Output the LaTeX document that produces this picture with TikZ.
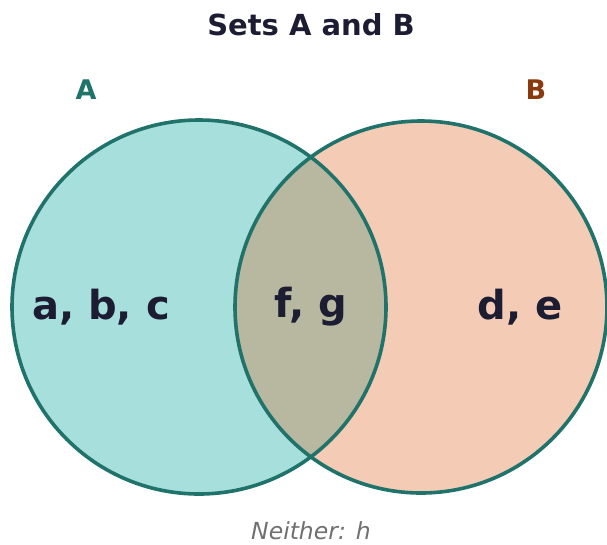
\documentclass[tikz,border=0pt]{standalone}
\usepackage{fontspec}
\setmainfont{DejaVu Sans}
\definecolor{setteal}{RGB}{31,115,106}
\definecolor{setbrown}{RGB}{139,58,14}
\definecolor{setink}{RGB}{28,28,51}
\definecolor{fillA}{RGB}{166,223,219}
\definecolor{fillB}{RGB}{244,203,181}
\definecolor{fillAB}{RGB}{184,183,160}
\definecolor{setgray}{RGB}{112,112,112}
\usetikzlibrary{positioning}

\begin{document}
\begin{tikzpicture}[x=1pt, y=-1pt,
  setcircle/.style={draw=setteal, line width=3.6pt},
  members/.style={text=setink, font=\fontsize{40}{44}\selectfont\bfseries},
  setlabel/.style={font=\fontsize{27}{30}\selectfont\bfseries}
]
  \useasboundingbox (0,0) rectangle (607,544);

  %% Set fills
  \fill[fillA] (199,307) circle[radius=187pt];
  \fill[fillB] (421,307) circle[radius=186pt];
  \begin{scope}
    \clip (199,307) circle[radius=187pt];
    \fill[fillAB] (421,307) circle[radius=186pt];
  \end{scope}

  %% Outlines
  \node[setcircle, circle, minimum size=374pt, inner sep=0pt] (setA) at (199,307) {};
  \node[setcircle, circle, minimum size=372pt, inner sep=0pt] (setB) at (421,307) {};

  %% Title and labels
  \node[text=setink, font=\fontsize{29}{32}\selectfont\bfseries] (title) at (311,25) {Sets A and B};
  \node[setlabel, text=setteal] (labA) at (86,90) {A};
  \node[setlabel, text=setbrown] (labB) at (536,90) {B};

  %% Regions
  \node[members] (onlyA) at (101,307) {a, b, c};
  \node[members] (both)  at (311,307) {f, g};
  \node[members] (onlyB) at (520,307) {d, e};

  \node[text=setgray, font=\fontsize{23.5}{26}\selectfont\itshape] (neither) at (311,531) {Neither: h};
\end{tikzpicture}
\end{document}
